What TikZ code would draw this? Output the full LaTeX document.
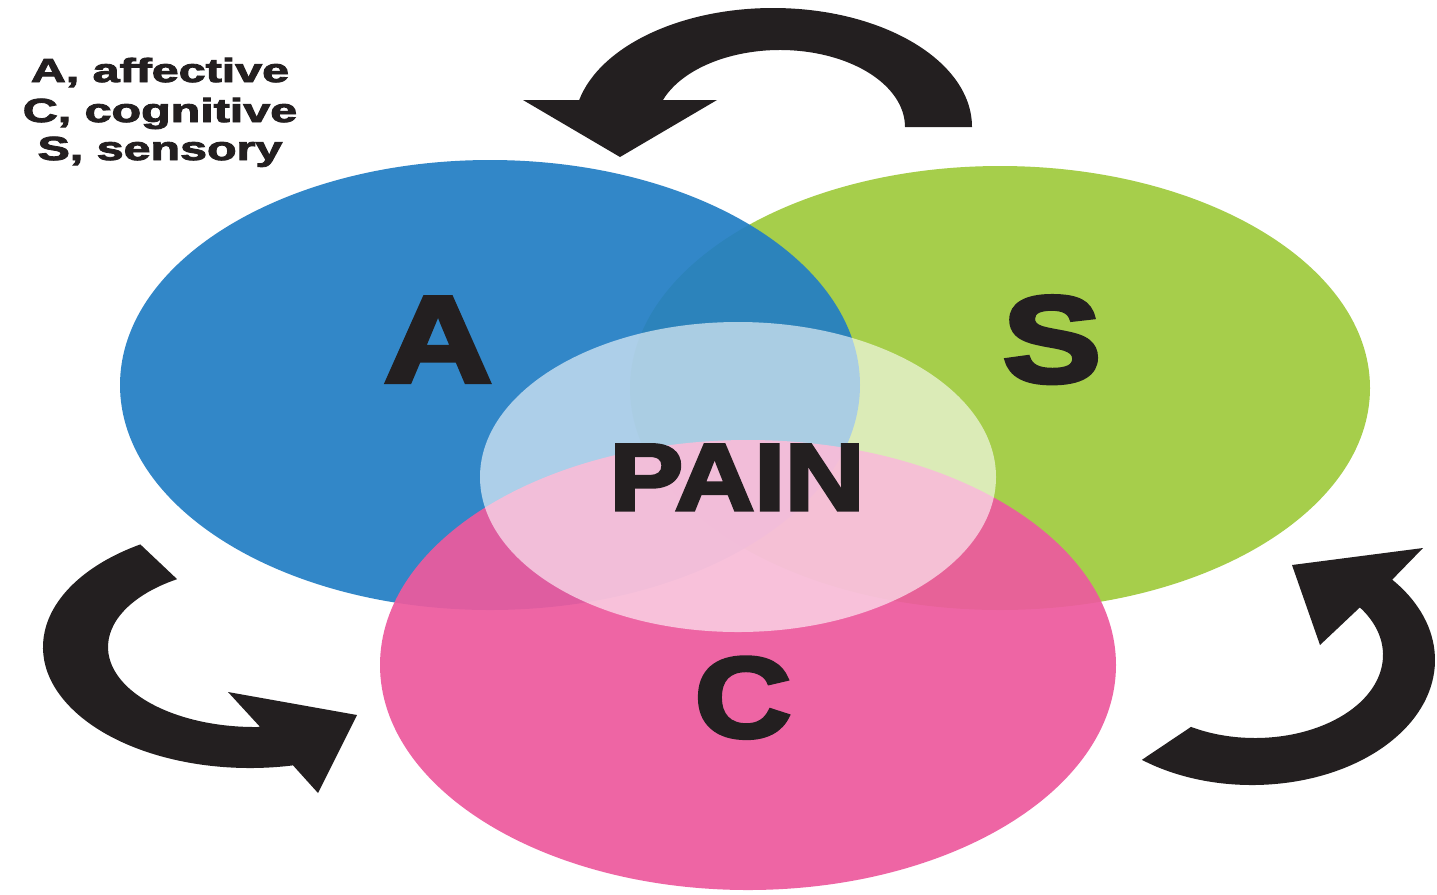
\documentclass[tikz,border=0pt]{standalone}
\usepackage{fontspec}
\setmainfont{Liberation Sans}
\newfontfamily\heavyfont[FakeBold=3.5]{Liberation Sans Bold}
\newfontfamily\legendfont[FakeBold=2.5]{Liberation Sans Bold}
\usetikzlibrary{calc}
\definecolor{vgreen}{RGB}{166,206,75}
\definecolor{vblue}{RGB}{35,126,196}
\definecolor{vpink}{RGB}{237,90,158}
\definecolor{ink}{RGB}{35,31,32}
\newcommand{\hstretch}[2]{\scalebox{#1}[1]{#2}}
\tikzset{
  bigletter/.style={font=\heavyfont\fontsize{70}{70}\selectfont, text=ink, inner sep=0pt, anchor=base},
  midword/.style={font=\heavyfont\fontsize{54}{54}\selectfont, text=ink, inner sep=0pt, anchor=base},
  legendline/.style={font=\legendfont\fontsize{19}{19}\selectfont, text=ink, inner sep=0pt, anchor=base},
  cyclearrow/.style={fill=ink},
}
\begin{document}
\begin{tikzpicture}[x=0.02cm,y=-0.02cm]
\useasboundingbox (0,0) rectangle (1437,894);
\fill[white] (0,0) rectangle (1437,894);

% circles
\fill[vgreen] (1000,388) ellipse [x radius=370, y radius=222];
\fill[vblue, opacity=0.93] (490,385) ellipse [x radius=370, y radius=225];
\fill[vpink, opacity=0.93] (748,665) ellipse [x radius=368, y radius=225];
\fill[white, opacity=0.6] (738,477) ellipse [x radius=258, y radius=155];

% letters
\node[bigletter] (la) at (438,382) {\hstretch{1.22}{A}};
\node[bigletter] (ls) at (1052,382) {\hstretch{1.2}{S}};
\node[bigletter, font=\heavyfont\fontsize{65}{65}\selectfont] (lc) at (743,737) {\hstretch{1.17}{C}};
\node[midword] (pain) at (737,510) {\hstretch{1.16}{PAIN}};

% legend
\node[legendline] (leg1) at (160,82) {\hstretch{1.45}{A, affective}};
\node[legendline] (leg2) at (160,122) {\hstretch{1.45}{C, cognitive}};
\node[legendline] (leg3) at (160,160) {\hstretch{1.45}{S, sensory}};

% top arrow
\fill[cyclearrow] (972,127)
  arc[start angle=0, end angle=-167, x radius=199, y radius=119]
  -- (523,100) -- (620,157) -- (717,100)
  -- ($(780,127)+(-159.5:125 and 77)$)
  arc[start angle=-159.5, end angle=0, x radius=125, y radius=77]
  -- cycle;

% left arrow
\fill[cyclearrow] ($(250,647)+(238:207 and 121)$)
  arc[start angle=238, end angle=78, x radius=207, y radius=121]
  -- (318,793) -- (357,715) -- (228,692)
  -- ($(255,647)+(88:147 and 80)$)
  arc[start angle=88, end angle=238, x radius=147, y radius=80]
  -- cycle;

% right arrow
\fill[cyclearrow] ($(1252,660)+(127:183 and 125)$)
  arc[start angle=127, end angle=-40, x radius=183, y radius=125]
  -- (1423,548) -- (1292,565) -- (1320,645)
  -- ($(1255,655)+(-35:128 and 83)$)
  arc[start angle=-35, end angle=120, x radius=128, y radius=83]
  -- cycle;
\end{tikzpicture}
\end{document}
